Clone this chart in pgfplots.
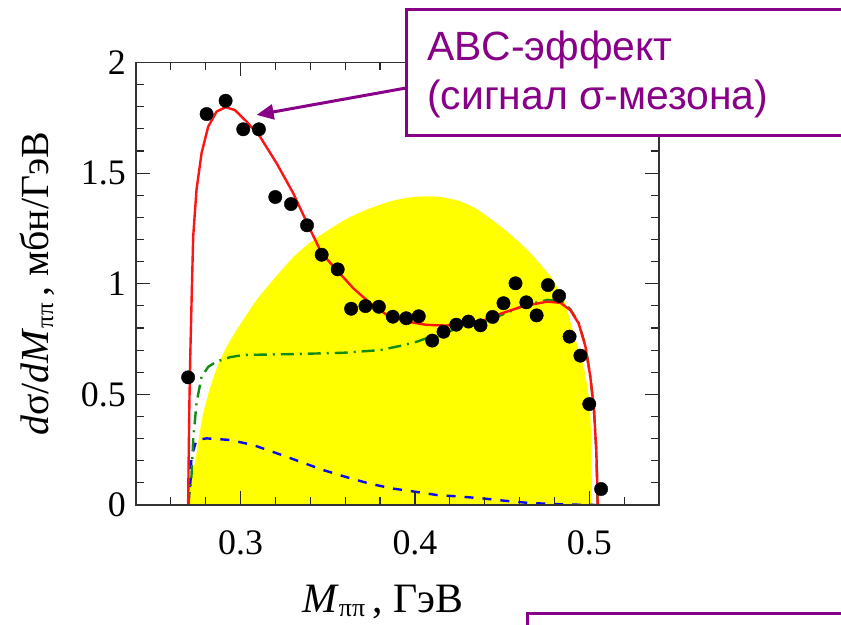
\documentclass[border=0pt]{standalone}
\usepackage{pgfplots}
\pgfplotsset{compat=1.18}
\usepackage{fontspec}
\setmainfont{Liberation Serif}
\newfontfamily\annofont{Liberation Sans}
\usetikzlibrary{arrows.meta}

\definecolor{annopurple}{RGB}{135,0,135}
\definecolor{phasey}{RGB}{255,255,0}
\definecolor{fitred}{RGB}{255,20,20}
\definecolor{sgreen}{RGB}{20,140,20}
\definecolor{bblue}{RGB}{10,10,240}

% subscript pi-pi for the axis titles
\newcommand\pipi[2]{\raisebox{-#2}{\fontsize{#1}{#1}\selectfont ππ}}

\begin{document}
\begin{tikzpicture}[x=1bp,y=1bp]
\useasboundingbox (0,0) rectangle (841,625);
\begin{axis}[
  at={(136bp,120bp)}, anchor=south west,
  scale only axis, width=523bp, height=442.5bp,
  xmin=0.24, xmax=0.54, ymin=0, ymax=2,
  xtick={0.3,0.4,0.5}, ytick={0,0.5,1,1.5,2},
  minor xtick={0.26,0.28,0.32,0.34,0.36,0.38,0.42,0.44,0.46,0.48,0.52},
  minor ytick={0.1,0.2,0.3,0.4,0.6,0.7,0.8,0.9,1.1,1.2,1.3,1.4,1.6,1.7,1.8,1.9},
  tick pos=both, tick align=inside,
  major tick length=14bp, minor tick length=8bp,
  every tick/.style={black!85, line width=1.2bp},
  axis line style={black!80, line width=1.5bp},
  ticklabel style={font=\fontsize{36}{36}\selectfont, inner sep=0pt},
  /pgf/number format/assume math mode=true,
  xticklabel style={anchor=north, yshift=-25bp},
  yticklabel style={anchor=east, xshift=-10bp},
  axis on top,
]
% phase-space distribution
\addplot[draw=none, fill=phasey, smooth, tension=0.35] coordinates {
  (0.2699,0) (0.2702,0.06) (0.2715,0.12) (0.2738,0.188) (0.2760,0.30)
  (0.2785,0.414) (0.2825,0.53) (0.2871,0.635) (0.2920,0.715) (0.2977,0.791)
  (0.3092,0.927) (0.3200,1.03) (0.3302,1.12) (0.3380,1.175) (0.3450,1.215)
  (0.3600,1.29) (0.3723,1.335) (0.3850,1.37) (0.3950,1.388) (0.4050,1.395)
  (0.4150,1.392) (0.4250,1.375) (0.4350,1.34) (0.4490,1.26) (0.4580,1.20)
  (0.4660,1.14) (0.4779,1.032) (0.4855,0.927) (0.4910,0.776) (0.4968,0.625)
  (0.4997,0.49) (0.5006,0.414) (0.5013,0.2) (0.5016,0)
} \closedcycle;
% sigma-channel contribution
\addplot[bblue, line width=2.4bp, dash pattern=on 9bp off 9bp] coordinates {
  (0.2699,0) (0.2706,0.05) (0.2713,0.113) (0.2718,0.218) (0.2747,0.294)
  (0.2805,0.301) (0.2939,0.294) (0.3072,0.271) (0.3207,0.234) (0.3341,0.196)
  (0.3474,0.158) (0.3603,0.127) (0.3733,0.098) (0.3867,0.075) (0.4001,0.060)
  (0.4126,0.045) (0.4260,0.038) (0.4384,0.030) (0.4518,0.019) (0.4643,0.010)
  (0.4800,0.004) (0.4950,0.001) (0.5048,0)
};
% conventional t-channel contribution
\addplot[sgreen, line width=2.4bp, dash pattern=on 13bp off 6bp on 2bp off 6bp] coordinates {
  (0.2699,0) (0.2708,0.06) (0.2718,0.128) (0.2728,0.294) (0.2747,0.460)
  (0.2776,0.580) (0.2815,0.625) (0.2862,0.648) (0.2939,0.668) (0.3015,0.678)
  (0.3302,0.682) (0.3589,0.688) (0.3800,0.700) (0.3915,0.719) (0.4011,0.738)
  (0.4145,0.776) (0.4374,0.821) (0.4500,0.86) (0.4620,0.90) (0.4760,0.927)
  (0.4840,0.92) (0.4891,0.885) (0.4939,0.825) (0.4978,0.72) (0.5006,0.58)
  (0.5027,0.43) (0.5040,0.25) (0.5048,0)
};
% measured distribution
\addplot[only marks, mark=*, mark size=6.7bp, mark options={fill=black, draw=black}] coordinates {
  (0.2699,0.577) (0.2805,1.767) (0.2914,1.827) (0.3015,1.698) (0.3105,1.698)
  (0.3199,1.392) (0.3289,1.360) (0.3381,1.264) (0.3465,1.131) (0.3557,1.065)
  (0.3634,0.887) (0.3716,0.899) (0.3793,0.896) (0.3873,0.851) (0.3950,0.844)
  (0.4022,0.853) (0.4099,0.743) (0.4164,0.783) (0.4237,0.815) (0.4307,0.829)
  (0.4376,0.812) (0.4445,0.850) (0.4508,0.912) (0.4577,1.002) (0.4639,0.916)
  (0.4698,0.857) (0.4763,0.994) (0.4827,0.945) (0.4887,0.761) (0.4949,0.675)
  (0.5000,0.456) (0.5068,0.072)
};
% full calculation
\addplot[fitred, line width=2.4bp] coordinates {
  (0.2699,0) (0.2702,0.2) (0.2706,0.45) (0.2712,0.7) (0.2719,0.93)
  (0.2728,1.213) (0.2747,1.424) (0.2776,1.590) (0.2814,1.710) (0.2862,1.778)
  (0.2914,1.798) (0.2967,1.785) (0.3034,1.733) (0.3111,1.665) (0.3207,1.544)
  (0.3302,1.409) (0.3390,1.260) (0.3465,1.138) (0.3551,1.062) (0.3647,0.979)
  (0.3743,0.912) (0.3839,0.859) (0.3953,0.829) (0.4068,0.814) (0.4183,0.811)
  (0.4300,0.822) (0.4400,0.836) (0.4470,0.859) (0.4623,0.899) (0.4758,0.919)
  (0.4834,0.914) (0.4891,0.881) (0.4939,0.821) (0.4978,0.716) (0.5006,0.580)
  (0.5027,0.43) (0.5040,0.25) (0.5046,0.1) (0.5048,0)
};
\coordinate (peak) at (axis cs:0.3092,1.763);
\end{axis}

% axis titles
\node[anchor=base west, inner sep=0] at (302,12)
  {\fontsize{42}{42}\selectfont\textit{M}\pipi{26}{4bp}\,, ГэВ};
\node[rotate=90, anchor=base, inner sep=0] at (48,341)
  {\fontsize{40}{40}\selectfont\textit{d}σ/\textit{dM}\pipi{25}{5bp}\,, мбн/ГэВ};

% callout
\draw[annopurple, line width=3bp, -{Triangle[length=17bp,width=15bp]}] (410,537.7) -- (peak);
\draw[annopurple, line width=3bp, fill=white] (406,615) rectangle (900,489);
\node[anchor=base west, inner sep=0, text=annopurple] at (427,564)
  {\annofont\fontsize{41}{41}\selectfont ABC-эффект};
\node[anchor=base west, inner sep=0, text=annopurple] at (427,515)
  {\annofont\fontsize{41}{41}\selectfont (сигнал σ-мезона)};
\draw[annopurple, line width=3bp] (527.7,11.7) rectangle (900,-60);
\end{tikzpicture}
\end{document}
